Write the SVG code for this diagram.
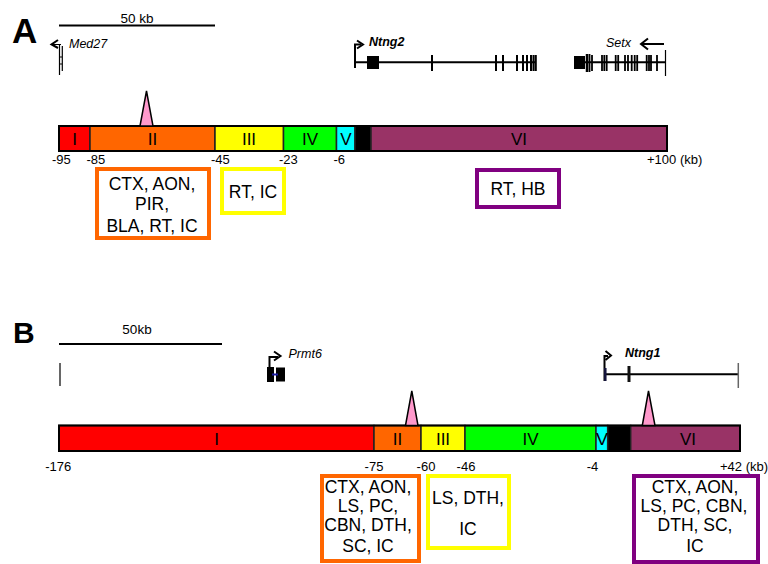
<svg xmlns="http://www.w3.org/2000/svg" width="768" height="564" viewBox="0 0 768 564">
<style>
text{font-family:"Liberation Sans",Arial,sans-serif;fill:#000}
.panel{font-weight:bold}
.scale{font-size:13.5px;text-anchor:middle}
.gene{font-size:12.5px;font-style:italic}
.bold{font-weight:bold}
.num{font-size:13px}
.numc{font-size:13px;text-anchor:middle}
.rom{font-size:17px;text-anchor:middle}
.seg{stroke:#222;stroke-width:1.5}
.tri{fill:#ff99cc;stroke:#000;stroke-width:1.5}
.box{fill:#fff;stroke-width:4}
.bt{font-size:17.5px;text-anchor:middle}
.ln{stroke:#000;fill:none}
</style>

<!-- Panel A -->
<g id="panelA-label"><text class="panel" x="12" y="43" font-size="35">A</text></g>
<g id="scaleA">
<line class="ln" x1="59" y1="25.5" x2="215" y2="25.5" stroke-width="2"/>
<text class="scale" x="137" y="22.5">50 kb</text>
</g>
<g id="gene-Med27">
<path class="ln" d="M58,40 L51.5,44.5 L58,48" stroke-width="2"/>
<path class="ln" d="M52,44.5 H61 M59.5,44.5 V75 M62.3,46 V71 M59.5,57 H62.3 M59.5,64 H62.3" stroke-width="1.2"/>
<text class="gene" x="69" y="47.5">Med27</text>
</g>
<g id="gene-Ntng2">
<path class="ln" d="M355,68 V44.5 H361" stroke-width="2"/>
<path class="ln" d="M357,40.5 L363,44.5 L357,48.5" stroke-width="2"/>
<text class="gene bold" x="369" y="46">Ntng2</text>
<line class="ln" x1="355" y1="62.3" x2="536" y2="62.3" stroke-width="2"/>
<rect x="367" y="56" width="12" height="13" fill="#000"/>
<path class="ln" d="M432,55V71 M496,55V71 M503,55V71 M517,55V71 M523,55V71 M527,55V71 M531,55V71 M533.5,55V71 M535.8,55V71" stroke-width="2"/>
</g>
<g id="gene-Setx">
<line class="ln" x1="575" y1="62.3" x2="665" y2="62.3" stroke-width="2"/>
<rect x="574" y="56" width="11" height="13" fill="#000"/>
<path class="ln" d="M589.5,54V72 M592,55V71 M602,55V71 M604.3,55V71 M606.7,55V71 M615.7,55V71 M618.2,55V71 M625,55V71 M628,55V71 M631.7,55V71 M634.7,55V71 M637.2,55V71 M646.7,55V71 M649,55V71 M651,55V71 M657,55V71" stroke-width="1.8"/>
<line class="ln" x1="587" y1="54" x2="587" y2="72" stroke-width="2.5"/>
<line class="ln" x1="665.5" y1="50" x2="665.5" y2="76" stroke-width="1.2"/>
<text class="gene" x="606" y="47">Setx</text>
<path class="ln" d="M641,44 H664 M648,38.5 L641,44 L648,49.5" stroke-width="2"/>
</g>

<g id="barA">
<rect class="seg" x="59" y="126" width="31" height="25" fill="#ff0000"/>
<rect class="seg" x="90" y="126" width="125" height="25" fill="#ff6600"/>
<rect class="seg" x="215" y="126" width="68.5" height="25" fill="#ffff00"/>
<rect class="seg" x="283.5" y="126" width="53" height="25" fill="#00ff00"/>
<rect class="seg" x="336.5" y="126" width="18.5" height="25" fill="#00ffff"/>
<rect class="seg" x="355" y="126" width="16" height="25" fill="#000"/>
<rect class="seg" x="371" y="126" width="296" height="25" fill="#993366"/>
<rect x="59" y="126" width="608" height="25" fill="none" stroke="#000" stroke-width="2"/>
<text class="rom" x="74.5" y="145">I</text>
<text class="rom" x="152.5" y="145">II</text>
<text class="rom" x="249" y="145">III</text>
<text class="rom" x="310" y="145">IV</text>
<text class="rom" x="346" y="145">V</text>
<text class="rom" x="519" y="145">VI</text>
<path class="tri" d="M140,126 L146.5,91 L153,126 Z"/>
</g>
<g id="numsA">
<text class="num" x="52" y="164">-95</text>
<text class="num" x="86.5" y="164">-85</text>
<text class="num" x="211" y="164">-45</text>
<text class="num" x="279" y="164">-23</text>
<text class="num" x="333.5" y="164">-6</text>
<text class="num" x="647" y="164">+100 (kb)</text>
</g>
<g id="boxA-II">
<rect class="box" x="97" y="169" width="112" height="69" stroke="#ff6600"/>
<text class="bt" x="152" y="190">CTX, AON,</text>
<text class="bt" x="152" y="209.5">PIR,</text>
<text class="bt" x="152" y="231.5">BLA, RT, IC</text>
</g>
<g id="boxA-III">
<rect class="box" x="222" y="169" width="62" height="44" stroke="#ffff00"/>
<text class="bt" x="253" y="198">RT, IC</text>
</g>
<g id="boxA-VI">
<rect class="box" x="477" y="170" width="82" height="37" stroke="#800080"/>
<text class="bt" x="518" y="195">RT, HB</text>
</g>

<!-- Panel B -->
<g id="panelB-label"><text class="panel" x="13" y="343" font-size="30">B</text></g>
<g id="scaleB">
<line class="ln" x1="59" y1="344" x2="222" y2="344" stroke-width="2"/>
<text class="scale" x="137" y="334">50kb</text>
</g>
<g id="leftmark"><line class="ln" x1="60" y1="363" x2="60" y2="386" stroke-width="1.2"/></g>
<g id="gene-Prmt6">
<path class="ln" d="M269.5,368 V357 H278" stroke-width="2"/>
<path class="ln" d="M274,351.5 L280.5,356 L274,360.5" stroke-width="2"/>
<rect x="267" y="367" width="7" height="15" fill="#000"/>
<rect x="276" y="367.5" width="9" height="14" fill="#000"/>
<line x1="272" y1="374.5" x2="278" y2="374.5" stroke="#1a1aa0" stroke-width="2"/>
<text class="gene" x="288.5" y="357.5">Prmt6</text>
</g>
<g id="gene-Ntng1">
<path class="ln" d="M604.5,381 V356 H608" stroke-width="2"/>
<path class="ln" d="M605.5,351 L611,355.5 L605.5,360" stroke-width="2"/>
<line class="ln" x1="605" y1="374.3" x2="738" y2="374.3" stroke-width="2"/>
<line x1="605.3" y1="368" x2="605.3" y2="381" stroke="#14143c" stroke-width="2.5"/>
<line x1="629" y1="366" x2="629" y2="382" stroke="#111" stroke-width="3"/>
<line x1="738.3" y1="363" x2="738.3" y2="388" stroke="#666" stroke-width="1.5"/>
<text class="gene bold" x="625" y="357">Ntng1</text>
</g>

<g id="barB">
<rect class="seg" x="59" y="425.5" width="315" height="25.5" fill="#ff0000"/>
<rect class="seg" x="374" y="425.5" width="47" height="25.5" fill="#ff6600"/>
<rect class="seg" x="421" y="425.5" width="44" height="25.5" fill="#ffff00"/>
<rect class="seg" x="465" y="425.5" width="131" height="25.5" fill="#00ff00"/>
<rect class="seg" x="596" y="425.5" width="11.7" height="25.5" fill="#00ffff"/>
<rect class="seg" x="607.7" y="425.5" width="23" height="25.5" fill="#000"/>
<rect class="seg" x="630.7" y="425.5" width="109.3" height="25.5" fill="#993366"/>
<rect x="59" y="425.5" width="681" height="25.5" fill="none" stroke="#000" stroke-width="2"/>
<text class="rom" x="216.5" y="445">I</text>
<text class="rom" x="397.5" y="445">II</text>
<text class="rom" x="443" y="445">III</text>
<text class="rom" x="530.5" y="445">IV</text>
<text class="rom" x="602" y="445" textLength="12" lengthAdjust="spacingAndGlyphs">V</text>
<text class="rom" x="688" y="445">VI</text>
<path class="tri" d="M405.5,425.5 L411.8,391 L418,425.5 Z"/>
<path class="tri" d="M642.3,425.5 L648.5,391 L655,425.5 Z"/>
</g>
<g id="numsB">
<text class="numc" x="58.3" y="471">-176</text>
<text class="numc" x="374" y="471">-75</text>
<text class="numc" x="426" y="471">-60</text>
<text class="numc" x="466" y="471">-46</text>
<text class="numc" x="592.5" y="471">-4</text>
<text class="num" x="720" y="471">+42 (kb)</text>
</g>
<g id="boxB-II">
<rect class="box" x="322" y="476" width="97" height="85" stroke="#ff6600"/>
<text class="bt" x="368" y="493">CTX, AON,</text>
<text class="bt" x="368" y="512">LS, PC,</text>
<text class="bt" x="368" y="531">CBN, DTH,</text>
<text class="bt" x="368" y="552">SC, IC</text>
</g>
<g id="boxB-III">
<rect class="box" x="428" y="476" width="81" height="72" stroke="#ffff00"/>
<text class="bt" x="468" y="504">LS, DTH,</text>
<text class="bt" x="468" y="535">IC</text>
</g>
<g id="boxB-VI">
<rect class="box" x="634" y="476" width="124" height="86" stroke="#800080"/>
<text class="bt" x="695" y="493">CTX, AON,</text>
<text class="bt" x="694" y="512">LS, PC, CBN,</text>
<text class="bt" x="695" y="531">DTH, SC,</text>
<text class="bt" x="695" y="552">IC</text>
</g>
</svg>
